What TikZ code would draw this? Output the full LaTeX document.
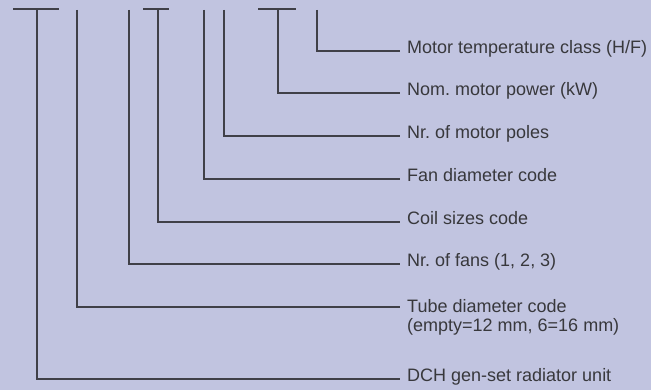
\documentclass[tikz,border=0pt]{standalone}
\usepackage{fontspec}
\setmainfont{Liberation Sans}
\usetikzlibrary{calc}
\definecolor{bgc}{HTML}{C1C4E0}
\definecolor{linec}{HTML}{404048}
\definecolor{textc}{HTML}{38383C}
\begin{document}
\frenchspacing
\begin{tikzpicture}[x=1pt,y=-1pt,
  lead/.style={draw=linec,line width=1.4pt},
  bar/.style={draw=linec,line width=1.4pt},
  lbl/.style={anchor=mid west,inner sep=0pt,text=textc,font=\fontsize{18}{20}\selectfont},
  lbltwo/.style={anchor=north west,inner sep=0pt,text=textc,align=left,font=\fontsize{18}{19.5}\selectfont}]
\fill[bgc] (0,0) rectangle (651,390);
\useasboundingbox (0,0) rectangle (651,390);
% top coordinates
\coordinate (t1) at (37,9);
\coordinate (t2) at (77,10);
\coordinate (t3) at (129,10);
\coordinate (t4) at (158,9);
\coordinate (t5) at (204,10);
\coordinate (t6) at (224,10);
\coordinate (t7) at (278,9);
\coordinate (t8) at (317,10);
% bar ends
\coordinate (b1a) at (13,9);  \coordinate (b1b) at (59,9);
\coordinate (b4a) at (143,9); \coordinate (b4b) at (169,9);
\coordinate (b7a) at (258,9); \coordinate (b7b) at (296,9);
% line ends
\coordinate (e1) at (400,379);
\coordinate (e2) at (400,307);
\coordinate (e3) at (400,264);
\coordinate (e4) at (400,222);
\coordinate (e5) at (400,179);
\coordinate (e6) at (400,136);
\coordinate (e7) at (400,93);
\coordinate (e8) at (400,51);
% labels
\node[lbl] (l1) at ($(e1)+(7,0)$) {DCH gen-set radiator unit};
\node[lbltwo] (l2) at ($(e2)+(7,-8)$) {Tube diameter code\\(empty=12 mm, 6=16 mm)};
\node[lbl] (l3) at ($(e3)+(7,0)$) {Nr. of fans (1, 2, 3)};
\node[lbl] (l4) at ($(e4)+(7,0)$) {Coil sizes code};
\node[lbl] (l5) at ($(e5)+(7,0)$) {Fan diameter code};
\node[lbl] (l6) at ($(e6)+(7,0)$) {Nr. of motor poles};
\node[lbl] (l7) at ($(e7)+(7,0)$) {Nom. motor power (kW)};
\node[lbl] (l8) at ($(e8)+(7,0)$) {Motor temperature class (H/F)};
% bars
\draw[bar] (b1a) -- (b1b);
\draw[bar] (b4a) -- (b4b);
\draw[bar] (b7a) -- (b7b);
% leaders
\draw[lead] (t1) |- (e1);
\draw[lead] (t2) |- (e2);
\draw[lead] (t3) |- (e3);
\draw[lead] (t4) |- (e4);
\draw[lead] (t5) |- (e5);
\draw[lead] (t6) |- (e6);
\draw[lead] (t7) |- (e7);
\draw[lead] (t8) |- (e8);
\end{tikzpicture}
\end{document}
